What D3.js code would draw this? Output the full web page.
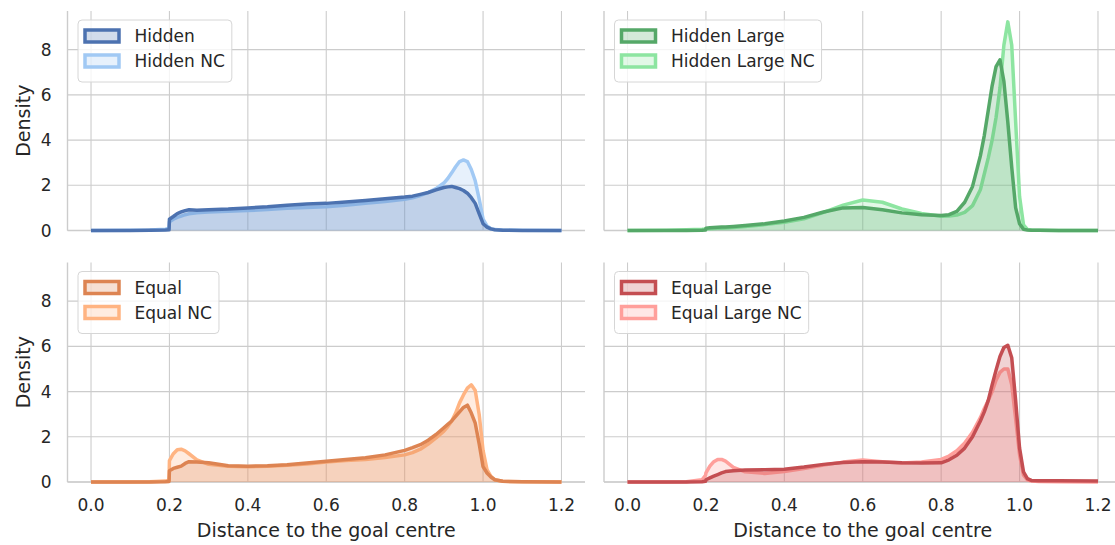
<!DOCTYPE html>
<html>
<head>
<meta charset="utf-8">
<script src="https://cdn.jsdelivr.net/npm/d3@7"></script>
<style>
  body { margin: 0; background: #fff; }
  text { font-family: "DejaVu Sans", sans-serif; fill: #262626; }
</style>
</head>
<body>
<div class="chart"></div>
<script>
// shared x grid (distance to the goal centre)
const xs = [0, 0.1, 0.15, 0.19, 0.199, 0.2, 0.21, 0.22, 0.23, 0.24, 0.25, 0.27, 0.3, 0.35, 0.4, 0.45,
  0.5, 0.55, 0.6, 0.65, 0.7, 0.75, 0.8, 0.82, 0.84, 0.86, 0.88, 0.9, 0.91, 0.92, 0.93, 0.94, 0.95,
  0.96, 0.97, 0.98, 0.99, 1.0, 1.01, 1.02, 1.03, 1.05, 1.1, 1.2];

const hidden = [0, 0, 0.01, 0.02, 0.03, 0.5, 0.62, 0.75, 0.82, 0.88, 0.92, 0.9, 0.92, 0.95, 1.0, 1.05,
  1.12, 1.17, 1.2, 1.26, 1.33, 1.4, 1.48, 1.52, 1.6, 1.68, 1.8, 1.9, 1.93, 1.95, 1.9, 1.85, 1.77,
  1.65, 1.45, 1.2, 0.75, 0.3, 0.15, 0.07, 0.03, 0.01, 0, 0];
const hiddenNC = [0, 0.01, 0.02, 0.06, 0.1, 0.38, 0.5, 0.58, 0.64, 0.7, 0.74, 0.78, 0.82, 0.85, 0.88, 0.93,
  0.98, 1.02, 1.05, 1.12, 1.2, 1.28, 1.38, 1.45, 1.55, 1.68, 1.85, 2.1, 2.3, 2.55, 2.82, 3.05, 3.12,
  3.05, 2.7, 2.2, 1.4, 0.5, 0.2, 0.08, 0.04, 0.02, 0.01, 0];
const hiddenLarge = [0, 0, 0, 0.01, 0.02, 0.1, 0.12, 0.13, 0.14, 0.15, 0.16, 0.18, 0.22, 0.3, 0.42, 0.58,
  0.82, 1.0, 1.02, 0.92, 0.78, 0.7, 0.66, 0.7, 0.85, 1.25, 1.95, 3.3, 4.2, 5.3, 6.4, 7.25, 7.55,
  6.6, 4.8, 2.8, 1.0, 0.3, 0.05, 0.02, 0.01, 0.01, 0, 0];
const hiddenLargeNC = [0, 0.01, 0.03, 0.05, 0.06, 0.07, 0.08, 0.09, 0.1, 0.1, 0.11, 0.13, 0.18, 0.26, 0.36, 0.52,
  0.8, 1.12, 1.35, 1.25, 0.95, 0.75, 0.63, 0.64, 0.68, 0.8, 1.1, 1.8, 2.5, 3.2, 4.0, 5.0, 6.3,
  8.2, 9.23, 8.2, 4.8, 1.5, 0.25, 0.05, 0.02, 0.01, 0, 0];
const equal = [0, 0, 0, 0.01, 0.02, 0.5, 0.6, 0.65, 0.7, 0.82, 0.9, 0.88, 0.85, 0.72, 0.7, 0.72,
  0.76, 0.84, 0.92, 1.0, 1.07, 1.2, 1.4, 1.52, 1.65, 1.85, 2.1, 2.4, 2.55, 2.7, 2.9, 3.1, 3.3,
  3.4, 3.05, 2.6, 1.7, 0.68, 0.4, 0.22, 0.1, 0.03, 0.01, 0];
const equalNC = [0, 0, 0.01, 0.04, 0.08, 0.95, 1.25, 1.43, 1.45, 1.38, 1.25, 0.98, 0.78, 0.7, 0.68, 0.7,
  0.74, 0.8, 0.88, 0.95, 1.0, 1.08, 1.2, 1.3, 1.45, 1.68, 1.95, 2.25, 2.45, 2.7, 3.05, 3.5, 3.85,
  4.15, 4.3, 4.05, 3.0, 1.4, 0.55, 0.25, 0.1, 0.03, 0.01, 0];
const equalLarge = [0, 0, 0, 0.01, 0.03, 0.1, 0.18, 0.26, 0.33, 0.4, 0.46, 0.5, 0.53, 0.54, 0.56, 0.66,
  0.78, 0.86, 0.9, 0.88, 0.85, 0.84, 0.85, 0.98, 1.18, 1.5, 2.0, 2.7, 3.1, 3.6, 4.3, 4.95, 5.55,
  5.95, 6.05, 5.5, 3.6, 1.5, 0.45, 0.15, 0.07, 0.05, 0.05, 0.04];
const equalLargeNC = [0, 0, 0.01, 0.1, 0.3, 0.4, 0.7, 0.9, 1.0, 1.0, 0.92, 0.65, 0.45, 0.38, 0.46, 0.6,
  0.75, 0.88, 0.97, 0.9, 0.84, 0.88, 1.0, 1.15, 1.38, 1.72, 2.2, 2.85, 3.25, 3.6, 4.0, 4.5, 4.85,
  5.0, 5.0, 4.3, 2.8, 1.2, 0.3, 0.1, 0.04, 0.02, 0.01, 0];

const labels = [['Hidden', 'Hidden NC'], ['Hidden Large', 'Hidden Large NC'],
                ['Equal', 'Equal NC'], ['Equal Large', 'Equal Large NC']];
const series = [[hidden, hiddenNC], [hiddenLarge, hiddenLargeNC],
                [equal, equalNC], [equalLarge, equalLargeNC]];
const colors = [['#4c72b0', '#a1c9f4'], ['#55a868', '#8de5a1'],
                ['#dd8452', '#ffb482'], ['#c44e52', '#ff9f9b']];
const xTicks = [0, 0.2, 0.4, 0.6, 0.8, 1.0, 1.2];
const yTicks = [0, 2, 4, 6, 8];

const W = 1115, H = 545;
const svg = d3.select('.chart').append('svg')
    .attr('width', W).attr('height', H);

// panel boxes (left, top) ; all share size
const pw = 517.5, ph = 219.5;
const boxes = [[67.5, 11], [604, 11], [67.5, 262.5], [604, 262.5]];

boxes.forEach((b, i) => {
    const left = b[0], top = b[1];
    const g = svg.append('g');

    const x = d3.scaleLinear().domain([-0.06, 1.26]).range([left, left + pw]);
    const y = d3.scaleLinear().domain([0, 9.71]).range([top + ph, top]);

    // grid
    g.selectAll('.vg').data(xTicks).enter().append('line')
        .attr('x1', d => x(d)).attr('x2', d => x(d))
        .attr('y1', top).attr('y2', top + ph)
        .attr('stroke', '#cccccc').attr('stroke-width', 1.1);
    g.selectAll('.hg').data(yTicks).enter().append('line')
        .attr('x1', left).attr('x2', left + pw)
        .attr('y1', d => y(d)).attr('y2', d => y(d))
        .attr('stroke', '#cccccc').attr('stroke-width', 1.1);

    // spines
    g.append('line').attr('x1', left).attr('x2', left).attr('y1', top).attr('y2', top + ph)
        .attr('stroke', '#cccccc').attr('stroke-width', 1.4);
    g.append('line').attr('x1', left).attr('x2', left + pw).attr('y1', top + ph).attr('y2', top + ph)
        .attr('stroke', '#cccccc').attr('stroke-width', 1.4);

    const area = d3.area().x((d, j) => x(xs[j])).y0(y(0)).y1(d => y(d));
    const line = d3.line().x((d, j) => x(xs[j])).y(d => y(d));

    // NC drawn first so the main run sits on top
    [1, 0].forEach(k => {
        const s = series[i][k];
        g.append('path').datum(s)
            .attr('d', area)
            .attr('fill', colors[i][k]).attr('fill-opacity', 0.25);
        g.append('path').datum(s)
            .attr('d', line)
            .attr('fill', 'none')
            .attr('stroke', colors[i][k]).attr('stroke-width', 3.5)
            .attr('stroke-linejoin', 'round');
    });

    // y tick labels on left column
    if (i % 2 == 0) {
        g.selectAll('.yt').data(yTicks).enter().append('text')
            .attr('x', left - 16).attr('y', d => y(d))
            .attr('dy', '0.36em')
            .attr('text-anchor', 'end')
            .attr('font-size', 17)
            .text(d => d);
        g.append('text')
            .attr('transform', `translate(23,${top + ph / 2}) rotate(-90)`)
            .attr('dy', '0.36em')
            .attr('text-anchor', 'middle')
            .attr('font-size', 19)
            .text('Density');
    }
    // x tick labels on bottom row
    if (i >= 2) {
        g.selectAll('.xt').data(xTicks).enter().append('text')
            .attr('x', d => x(d)).attr('y', top + ph + 23)
            .attr('dy', '0.36em')
            .attr('text-anchor', 'middle')
            .attr('font-size', 17)
            .text(d => d.toFixed(1));
        g.append('text')
            .attr('x', left + pw / 2).attr('y', top + ph + 48)
            .attr('dy', '0.36em')
            .attr('text-anchor', 'middle')
            .attr('font-size', 19)
            .text('Distance to the goal centre');
    }

    // legend
    const lg = g.append('g').attr('transform', `translate(${left + 10.5},${top + 9})`);
    const frame = lg.append('rect')
        .attr('x', 0).attr('y', 0).attr('height', 62).attr('rx', 4)
        .attr('fill', '#fff').attr('fill-opacity', 0.8)
        .attr('stroke', '#d6d6d6').attr('stroke-width', 1);
    let maxW = 0;
    labels[i].forEach((lab, k) => {
        const cy = 16 + k * 25;
        lg.append('rect')
            .attr('x', 7).attr('y', cy - 6).attr('width', 34).attr('height', 12)
            .attr('fill', colors[i][k]).attr('fill-opacity', 0.25)
            .attr('stroke', colors[i][k]).attr('stroke-width', 3.5);
        const t = lg.append('text')
            .attr('x', 56.5).attr('y', cy)
            .attr('dy', '0.36em')
            .attr('font-size', 17)
            .text(lab);
        maxW = Math.max(maxW, t.node().getComputedTextLength());
    });
    frame.attr('width', 56.5 + maxW + 7);
});
</script>
</body>
</html>
